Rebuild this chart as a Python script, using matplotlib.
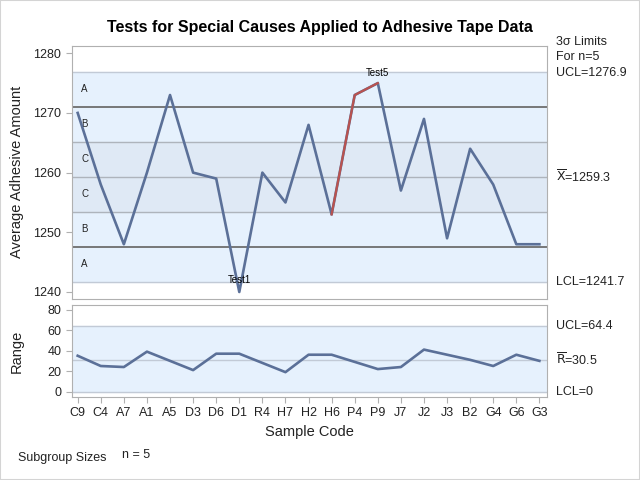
import numpy as np
import matplotlib.pyplot as plt
from matplotlib.patches import Rectangle

plt.rcParams['font.family'] = ['Liberation Sans', 'DejaVu Sans']

codes = ['C9', 'C4', 'A7', 'A1', 'A5', 'D3', 'D6', 'D1', 'R4', 'H7', 'H2',
         'H6', 'P4', 'P9', 'J7', 'J2', 'J3', 'B2', 'G4', 'G6', 'G3']
means = [1270, 1258, 1248, 1260, 1273, 1260, 1259, 1240, 1260, 1255, 1268,
         1253, 1273, 1275, 1257, 1269, 1249, 1264, 1258, 1248, 1248]
ranges = [35, 25, 24, 39, 30, 21, 37, 37, 28, 19, 36,
          36, 29, 22, 24, 41, 36, 31, 25, 36, 30]

xbar, ucl, lcl = 1259.3, 1276.9, 1241.7
rbar, rucl, rlcl = 30.5, 64.4, 0
test1_idx = [7]
test5_idx = [11, 12, 13]

line_c = '#5B7098'
red_c = '#B9524F'
band_c = '#E6F1FD'
cband_c = '#DFE9F5'
grid_c = '#AEB4BC'
dark_c = '#6E6E6E'
spine_c = '#B0B0B0'
txt_c = '#222222'

fig = plt.figure(figsize=(6.4, 4.8), dpi=100)
fig.patches.append(Rectangle((0, 0), 1, 1, transform=fig.transFigure,
                             fill=False, edgecolor='#D4D4D4', lw=1.5))

ax = fig.add_axes([0.112, 0.378, 0.742, 0.526])
ax2 = fig.add_axes([0.112, 0.173, 0.742, 0.192])
x = np.arange(len(codes))

# zones
s = (ucl - xbar) / 3
ax.axhspan(lcl, ucl, color=band_c, zorder=0)
ax.axhspan(xbar - s, xbar + s, color=cband_c, zorder=0)
for k in [-3, -1, 0, 1, 3]:
    ax.axhline(xbar + k * s, color='#C2CAD6' if abs(k) == 3 else grid_c, lw=1, zorder=1)
for k in [-2, 2]:
    ax.axhline(xbar + k * s, color=dark_c, lw=1.3, zorder=1)
zone_names = ['A', 'B', 'C', 'C', 'B', 'A']
for i, nm in enumerate(zone_names):
    yc = xbar + (2.5 - i) * s
    ax.text(0.02, yc, nm, fontsize=7, color=txt_c, va='center', ha='left',
            transform=ax.get_yaxis_transform())

ax.plot(x, means, color=line_c, lw=1.9, zorder=3)
ax.plot(x[test5_idx], np.array(means)[test5_idx], color=red_c, lw=1.6, zorder=4)
for i in test1_idx:
    ax.text(x[i], means[i] + 1.1, 'Test1', fontsize=7, ha='center', va='bottom', color='black', zorder=5)
ax.text(x[13], means[13] + 0.9, 'Test5', fontsize=7, ha='center', va='bottom', color='black', zorder=5)

ax.set_xlim(-0.26, 20.31)
ax.set_ylim(1238.9, 1281.2)
ax.set_yticks([1240, 1250, 1260, 1270, 1280])
ax.set_xticks(x)
ax.tick_params(axis='x', bottom=False, labelbottom=False)
ax.tick_params(axis='y', colors=spine_c, labelcolor=txt_c, labelsize=9, length=4)
ax.set_ylabel('Average Adhesive Amount', fontsize=10.5, color=txt_c)
ax.yaxis.set_label_coords(-0.1, 0.5)

# range chart
ax2.axhspan(rlcl, rucl, color=band_c, zorder=0)
ax2.axhline(rucl, color='#C2CAD6', lw=1, zorder=1)
ax2.axhline(rlcl, color='#C2CAD6', lw=1, zorder=1)
ax2.axhline(rbar, color='#C2CAD6', lw=1, zorder=1)
ax2.plot(x, ranges, color=line_c, lw=1.9, zorder=3)
ax2.set_xlim(-0.26, 20.31)
ax2.set_ylim(-5.2, 84.7)
ax2.set_yticks([0, 20, 40, 60, 80])
ax2.set_xticks(x)
ax2.set_xticklabels(codes)
ax2.tick_params(colors=spine_c, labelcolor=txt_c, labelsize=9, length=4)
ax2.set_ylabel('Range', fontsize=10.5, color=txt_c)
ax2.yaxis.set_label_coords(-0.1, 0.5)
ax2.set_xlabel('Sample Code', fontsize=10.5, color=txt_c, labelpad=4)

for a in (ax, ax2):
    for sp in a.spines.values():
        sp.set_color(spine_c)

# limit labels
fig.text(0.869, 0.913, '3\u03c3 Limits', fontsize=9, color=txt_c, va='center')
fig.text(0.869, 0.881, 'For n=5', fontsize=9, color=txt_c, va='center')
tr = ax.get_yaxis_transform()
ax.text(1.02, ucl - 0.2, 'UCL=1276.9', transform=tr, fontsize=9, color=txt_c, va='center', clip_on=False)
ax.text(1.02, xbar, r'$\overline{\mathrm{X}}$=1259.3', transform=tr, fontsize=9, color=txt_c, va='center', clip_on=False)
ax.text(1.02, lcl, 'LCL=1241.7', transform=tr, fontsize=9, color=txt_c, va='center', clip_on=False)
tr2 = ax2.get_yaxis_transform()
ax2.text(1.02, rucl, 'UCL=64.4', transform=tr2, fontsize=9, color=txt_c, va='center', clip_on=False)
ax2.text(1.02, rbar, r'$\overline{\mathrm{R}}$=30.5', transform=tr2, fontsize=9, color=txt_c, va='center', clip_on=False)
ax2.text(1.02, rlcl, 'LCL=0', transform=tr2, fontsize=9, color=txt_c, va='center', clip_on=False)

fig.suptitle('Tests for Special Causes Applied to Adhesive Tape Data',
             fontsize=11.5, fontweight='bold', x=0.5, y=0.958)
fig.text(0.028, 0.046, 'Subgroup Sizes', fontsize=9, color=txt_c, va='center')
fig.text(0.19, 0.052, 'n = 5', fontsize=9, color=txt_c, va='center')

fig.savefig('out.png', dpi=100)
